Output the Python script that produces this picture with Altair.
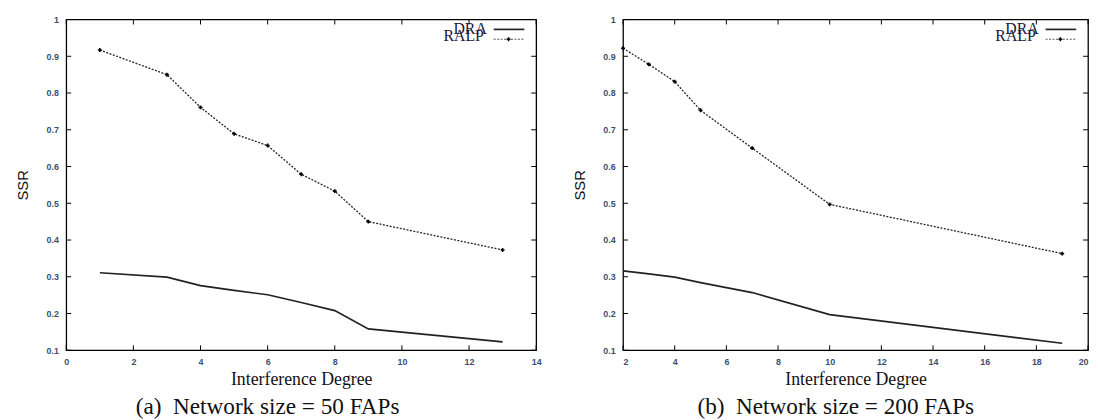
import altair as alt
import pandas as pd

series_names = ["DRA", "RALP"]

# Panel (a): network size = 50 FAPs
a_x = [1, 3, 4, 5, 6, 7, 8, 9, 13]
a_ralp = [0.917, 0.850, 0.761, 0.689, 0.657, 0.579, 0.533, 0.450, 0.373]
a_dra = [0.311, 0.299, 0.276, 0.263, 0.251, 0.230, 0.208, 0.158, 0.123]
a_xticks = [0, 2, 4, 6, 8, 10, 12, 14]

# Panel (b): network size = 200 FAPs
b_x = [2, 3, 4, 5, 7, 10, 19]
b_ralp = [0.922, 0.878, 0.831, 0.753, 0.650, 0.497, 0.363]
b_dra = [0.316, 0.308, 0.299, 0.284, 0.257, 0.197, 0.119]
b_xticks = [2, 4, 6, 8, 10, 12, 14, 16, 18, 20]

y_ticks = [0.1, 0.2, 0.3, 0.4, 0.5, 0.6, 0.7, 0.8, 0.9, 1.0]

captions = ["(a)\u00a0\u00a0Network size = 50 FAPs", "(b)\u00a0\u00a0Network size = 200 FAPs"]
x_title = "Interference Degree"
y_title = "SSR"

H = 335
LABEL_COLOR = "#3b4f73"
LINE_COLOR = "#222222"


def panel(xs, ralp, dra, xdomain, xticks, caption, W, cap_dx, flush):
    data = pd.DataFrame({"x": xs, "RALP": ralp, "DRA": dra})
    xscale = alt.Scale(domain=xdomain, nice=False, zero=False)
    yscale = alt.Scale(domain=[0.1, 1.0], nice=False, zero=False)
    xaxis = alt.Axis(values=xticks, title=x_title, titleFont="Liberation Serif",
                     titleFontSize=18, titleFontWeight="normal", titleColor="#111111",
                     titlePadding=5, labelFont="Liberation Sans", labelFontSize=9,
                     labelFontWeight="bold", labelColor=LABEL_COLOR, labelPadding=7,
                     ticks=False, tickSize=0, domain=False, grid=False, labelOverlap=False,
                     labelFlush=flush)
    yaxis = alt.Axis(values=y_ticks, format="~g", title=y_title, titleFont="Liberation Sans",
                     titleFontSize=15, titleFontWeight="normal", titleColor="#111111",
                     titlePadding=16, labelFont="Liberation Sans", labelFontSize=9,
                     labelFontWeight="bold", labelColor=LABEL_COLOR, labelPadding=8,
                     ticks=False, tickSize=0, domain=False, grid=False, labelOverlap=False)

    def X(field="x"):
        return alt.X(f"{field}:Q", scale=xscale, axis=xaxis)

    def Y(field):
        return alt.Y(f"{field}:Q", scale=yscale, axis=yaxis)

    base = alt.Chart(data)
    dra_line = base.mark_line(color=LINE_COLOR, strokeWidth=1.7).encode(x=X(), y=Y("DRA"))
    ralp_line = base.mark_line(color=LINE_COLOR, strokeWidth=1.3, strokeDash=[2, 1.5]).encode(
        x=X(), y=Y("RALP"))
    ralp_pts = base.mark_point(shape="cross", filled=True, size=16, color="#000000",
                               opacity=1).encode(x=X(), y=Y("RALP"))

    xt = alt.Chart(pd.DataFrame({"x": xticks}))
    yt = alt.Chart(pd.DataFrame({"y": y_ticks}))
    tick_bottom = xt.mark_rule(color="black", strokeWidth=1).encode(
        x=X(), y=alt.value(H), y2=alt.value(H - 5))
    tick_top = xt.mark_rule(color="black", strokeWidth=1).encode(
        x=X(), y=alt.value(0), y2=alt.value(5))
    tick_left = yt.mark_rule(color="black", strokeWidth=1).encode(
        y=Y("y"), x=alt.value(0), x2=alt.value(5))
    tick_right = yt.mark_rule(color="black", strokeWidth=1).encode(
        y=Y("y"), x=alt.value(W - 5), x2=alt.value(W))

    leg = alt.Chart(pd.DataFrame({"name": series_names}))
    txt_style = dict(align="right", baseline="alphabetic", font="Liberation Serif",
                     fontSize=16, color="#1a1a3a")
    dra_txt = leg.transform_filter(alt.datum.name == "DRA").mark_text(**txt_style).encode(
        text="name:N", x=alt.value(W - 50), y=alt.value(15))
    ralp_txt = leg.transform_filter(alt.datum.name == "RALP").mark_text(**txt_style).encode(
        text="name:N", x=alt.value(W - 53), y=alt.value(22))
    dra_sample = leg.transform_filter(alt.datum.name == "DRA").mark_rule(
        color=LINE_COLOR, strokeWidth=1.7).encode(
        x=alt.value(W - 43), x2=alt.value(W - 12), y=alt.value(10))
    ralp_sample = leg.transform_filter(alt.datum.name == "RALP").mark_rule(
        color="#555555", strokeWidth=1.1, strokeDash=[2, 1.5]).encode(
        x=alt.value(W - 43), x2=alt.value(W - 12), y=alt.value(20))
    ralp_marker = leg.transform_filter(alt.datum.name == "RALP").mark_point(
        shape="cross", filled=True, size=16, color="#000000", opacity=1).encode(
        x=alt.value(W - 28), y=alt.value(20))

    return alt.layer(
        dra_line, ralp_line, ralp_pts,
        tick_bottom, tick_top, tick_left, tick_right,
        dra_txt, ralp_txt, dra_sample, ralp_sample, ralp_marker,
    ).properties(
        width=W, height=H,
        title=alt.TitleParams(caption, orient="bottom", anchor="middle",
                              font="Liberation Serif", fontSize=23.5, fontWeight="normal",
                              color="#111111", offset=7, dx=cap_dx),
    )


pa = panel(a_x, a_ralp, a_dra, [0, 14], a_xticks, captions[0], 476, -34, False)
pb = panel(b_x, b_ralp, b_dra, [2, 20], b_xticks, captions[1], 471, -20, True)

chart = alt.hconcat(pa, pb, spacing=29).properties(
    padding={"left": 6, "top": 4, "right": 0, "bottom": 0}
).configure_view(stroke="black", strokeWidth=1.3).resolve_scale(x="independent")

chart.save("out.html", embed_options={"renderer": "svg", "actions": False})
